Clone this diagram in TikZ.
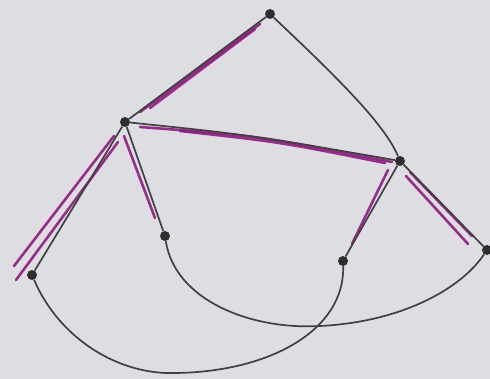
\documentclass[tikz,border=0pt]{standalone}
\begin{document}
\begin{tikzpicture}[x=1pt,y=-1pt,
  vtx/.style={circle,fill=black!82,inner sep=0pt,minimum size=10pt},
  edge/.style={draw=black!75,line width=1.7pt},
  hilite/.style={draw=pmark,line width=2.6pt,line cap=round,opacity=0.9}]
\definecolor{bg}{RGB}{221,222,225}
\definecolor{pmark}{RGB}{145,25,130}
\fill[bg] (0,0) rectangle (490,379);
\useasboundingbox (0,0) rectangle (490,379);
% purple highlight strokes
\draw[hilite] (260,24) -- (140,112);
\draw[hilite] (255,29) -- (150,108);
\draw[hilite] (140,127) .. controls (260,136) .. (392,162);
\draw[hilite] (180,131) .. controls (280,142) .. (385,163);
\draw[hilite] (114,136) -- (14,266);
\draw[hilite] (118,142) -- (16,280);
\draw[hilite] (124,136) -- (155,218);
\draw[hilite] (388,170) -- (352,244);
\draw[hilite] (406,176) -- (468,244);
\draw[hilite] (410,172) -- (472,236);
% vertices
\node[vtx] (T) at (270,14) {};
\node[vtx] (A) at (125,122) {};
\node[vtx] (B) at (400,161) {};
\node[vtx] (C) at (165,236) {};
\node[vtx] (D) at (343,261) {};
\node[vtx] (E) at (32,275) {};
\node[vtx] (F) at (487,250) {};
% edges
\draw[edge] (T) -- (A);
\draw[edge] (T) .. controls (340,80) and (385,125) .. (B);
\draw[edge] (A) .. controls (250,135) .. (B);
\draw[edge] (A) -- (E);
\draw[edge] (A) -- (C);
\draw[edge] (B) -- (D);
\draw[edge] (B) -- (F);
\draw[edge] (E) .. controls (60,340) and (120,375) .. (175,373) .. controls (270,372) and (345,330) .. (D);
\draw[edge] (C) .. controls (175,300) and (250,330) .. (320,326) .. controls (400,322) and (460,290) .. (F);
\end{tikzpicture}
\end{document}
